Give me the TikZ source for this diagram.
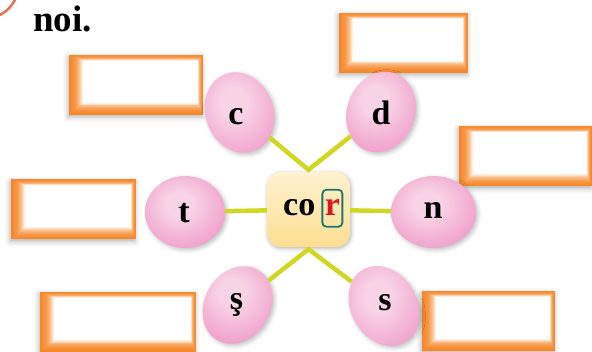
\documentclass[tikz,border=0pt]{standalone}
\usepackage{fontspec}
\setmainfont{Liberation Serif}
\usetikzlibrary{shapes.geometric,shadows.blur,positioning}
\definecolor{stemgreen}{RGB}{208,215,32}
\definecolor{pinkin}{RGB}{248,212,230}
\definecolor{pinkout}{RGB}{237,138,190}
\definecolor{boxorange}{RGB}{246,136,42}
\definecolor{cortop}{RGB}{254,242,208}
\definecolor{corbot}{RGB}{253,222,145}
\definecolor{rframe}{RGB}{28,118,108}
\definecolor{rred}{RGB}{214,28,34}
\definecolor{badge}{RGB}{231,112,80}
\pgfdeclareradialshading{petalshade}{\pgfpoint{-4bp}{6bp}}{color(0bp)=(pinkin); color(8bp)=(pinkin); color(40bp)=(pinkout); color(80bp)=(pinkout)}
\begin{document}
\begin{tikzpicture}[x=1pt,y=1pt,
    answer/.style={minimum width=#1, minimum height=60pt, inner sep=0pt,
        blur shadow={shadow xshift=-1pt,shadow yshift=-2pt,shadow blur radius=5pt,shadow opacity=30},
        path picture={\foreach \k [evaluate=\k as \p using {max(0,int(100-0.6*\k*\k))}] in {0,...,13}
            \fill[boxorange!\p!white] ([shift={(\k*1.1pt,\k*0.95pt)}]path picture bounding box.south west) rectangle ([shift={(-\k*0.4pt,-\k*0.45pt)}]path picture bounding box.north east);}},
    petal/.style={ellipse, inner sep=0pt, shading=petalshade,
        blur shadow={shadow xshift=2pt,shadow yshift=-2pt,shadow blur radius=4pt,shadow opacity=25}},
    letter/.style={font=\bfseries\fontsize{34}{38}\selectfont, inner sep=0pt, text height=15.5pt, text depth=0pt},
    title/.style={font=\bfseries\fontsize{37}{40}\selectfont, inner sep=0pt},
    stem/.style={stemgreen, line width=4.5pt},
    corbox/.style={rounded corners=14pt, minimum width=83pt, minimum height=75pt, top color=cortop, bottom color=corbot,
        blur shadow={shadow xshift=1pt,shadow yshift=-1.5pt,shadow blur radius=4pt,shadow opacity=30}},
    rbox/.style={letter, draw=rframe, line width=1.8pt, rounded corners=4pt, minimum width=20pt, minimum height=37pt, text=rred}]
\useasboundingbox (0,0) rectangle (592,351);
\draw[badge, line width=2.5pt] (-14,365) circle (32pt);
\node[title, anchor=base west] (noi) at (33,319) {noi.};
\node[answer=134pt] (a1) at (136,266) {};
\node[answer=129pt] (a2) at (403.5,308) {};
\node[answer=133pt] (a3) at (525.5,194.5) {};
\node[answer=125pt] (a4) at (73.5,141.5) {};
\node[answer=156pt] (a5) at (118,29) {};
\node[answer=133pt] (a6) at (488.5,30) {};
\node[petal, minimum width=68pt, minimum height=82pt, rotate=20] (c) at (239.5,238.5) {};
\node[petal, minimum width=68pt, minimum height=82pt, rotate=-20] (d) at (381,239) {};
\node[petal, minimum width=80pt, minimum height=72pt] (t) at (185,139) {};
\node[petal, minimum width=85pt, minimum height=72pt] (n) at (433.5,139) {};
\node[petal, minimum width=66pt, minimum height=81pt, rotate=-30] (sh) at (237.5,46) {};
\node[petal, minimum width=66pt, minimum height=84pt, rotate=30] (s) at (384,45) {};
\node[corbox] (cor) at (308.5,141.5) {};
\draw[stem] (c) -- ([yshift=2pt]cor.north) -- (d);
\draw[stem] (sh) -- ([yshift=-2pt]cor.south) -- (s);
\draw[stem] (t) -- (cor);
\draw[stem] (cor) -- (n);
\node[letter] (cl) at (236,234.5) {c};
\node[letter] (dl) at (381,234.5) {d};
\node[letter] (tl) at (184,136) {t};
\node[letter] (nl) at (433,140) {n};
\node[letter] (shl) at (236.5,49.5) {ş};
\node[letter] (sl) at (385,48) {s};
\node[letter, anchor=base west] (co) at (283,135) {co};
\node[rbox, base right=6pt of co] (r) {r};
\end{tikzpicture}
\end{document}
